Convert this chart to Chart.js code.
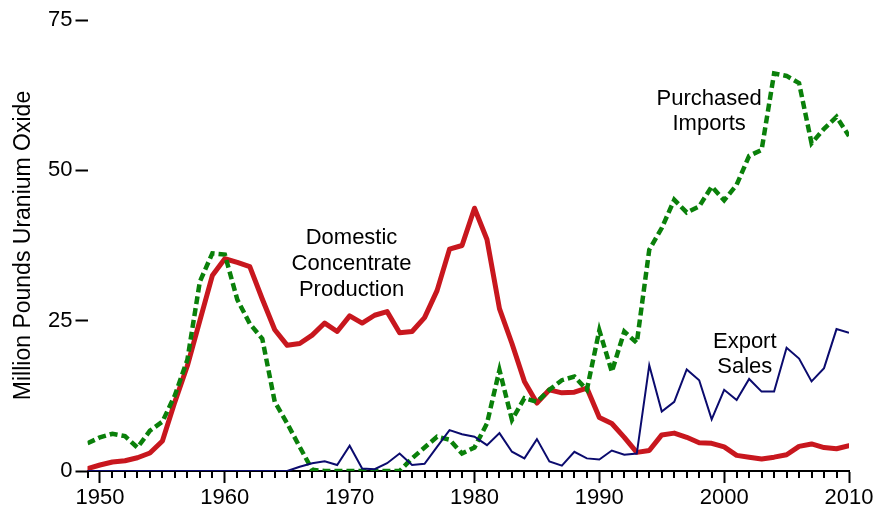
<!DOCTYPE html>
<html>
<head>
<meta charset="utf-8">
<script src="https://cdn.jsdelivr.net/npm/chart.js@4"></script>
<style>
  html, body { margin: 0; padding: 0; background: #fff; }
  #chart { display: block; }
</style>
</head>
<body>
<canvas id="chart" width="881" height="511"></canvas>
<script>
// Years on the x axis
const years = [
  1949, 1950, 1951, 1952, 1953, 1954, 1955, 1956, 1957, 1958,
  1959, 1960, 1961, 1962, 1963, 1964, 1965, 1966, 1967, 1968,
  1969, 1970, 1971, 1972, 1973, 1974, 1975, 1976, 1977, 1978,
  1979, 1980, 1981, 1982, 1983, 1984, 1985, 1986, 1987, 1988,
  1989, 1990, 1991, 1992, 1993, 1994, 1995, 1996, 1997, 1998,
  1999, 2000, 2001, 2002, 2003, 2004, 2005, 2006, 2007, 2008,
  2009, 2010
];

// Million pounds U3O8
const domesticProduction = [
  0.4, 1.0, 1.5, 1.7, 2.2, 3.0, 5.0, 11.5, 17.5, 25.0,
  32.5, 35.3, 34.7, 34.0, 28.6, 23.5, 20.9, 21.2, 22.6, 24.6,
  23.2, 25.8, 24.6, 25.9, 26.5, 23.0, 23.2, 25.5, 30.0, 36.9,
  37.5, 43.7, 38.5, 27.0, 21.2, 14.9, 11.3, 13.5, 13.0, 13.1,
  13.8, 8.9, 7.9, 5.6, 3.1, 3.4, 6.0, 6.3, 5.6, 4.7,
  4.6, 4.0, 2.6, 2.3, 2.0, 2.3, 2.7, 4.1, 4.5, 3.9,
  3.7, 4.2
];

const purchasedImports = [
  4.6, 5.6, 6.2, 5.8, 3.9, 6.7, 8.2, 12.6, 18.5, 31.5,
  36.2, 36.0, 28.5, 24.5, 22.0, 11.5, 7.9, 4.0, 0.2, 0,
  0, 0, 0, 0, 0, 0, 2.1, 3.9, 5.7, 5.2,
  2.9, 3.9, 7.9, 16.8, 8.5, 12.1, 11.5, 13.5, 15.1, 15.7,
  13.5, 23.4, 16.5, 23.2, 21.3, 36.8, 40.4, 45.1, 43.0, 44.0,
  47.3, 45.0, 47.6, 52.4, 53.4, 66.1, 65.7, 64.5, 54.5, 56.9,
  58.9, 55.7
];

const exportSales = [
  0, 0, 0, 0, 0, 0, 0, 0, 0, 0,
  0, 0, 0, 0, 0, 0, 0, 0.7, 1.3, 1.6,
  1.0, 4.2, 0.4, 0.3, 1.3, 2.9, 1.0, 1.2, 4.0, 6.8,
  6.1, 5.7, 4.3, 6.3, 3.2, 2.1, 5.3, 1.6, 0.9, 3.2,
  2.1, 1.9, 3.4, 2.7, 2.9, 17.6, 9.9, 11.5, 16.9, 15.1,
  8.6, 13.5, 11.8, 15.3, 13.2, 13.2, 20.5, 18.7, 14.9, 17.1,
  23.6, 23.0
];

const decadeTicks = [1950, 1960, 1970, 1980, 1990, 2000, 2010];
const yTicks = [0, 25, 50, 75];

const FONT = '"Liberation Sans", Arial, Helvetica, sans-serif';

function toPoints(values) {
  return years.map((yr, i) => ({ x: yr, y: values[i] }));
}

// Text labels placed next to each series (in data coordinates)
const seriesLabels = [
  { lines: ['Domestic', 'Concentrate', 'Production'], x: 1970.15, y: [37.75, 33.43, 29.1] },
  { lines: ['Purchased', 'Imports'], x: 1998.8, y: [60.85, 56.71] },
  { lines: ['Export', 'Sales'], x: 2001.65, y: [20.5, 16.35] }
];

// short tick marks for every year, long ones come from the axis itself
const minorTicks = {
  id: 'minorTicks',
  afterDraw(chart) {
    const xs = chart.scales.x;
    const ctx = chart.ctx;
    const y0 = chart.chartArea.bottom;
    ctx.save();
    ctx.strokeStyle = '#000';
    ctx.lineWidth = 2;
    years.forEach(yr => {
      if (yr % 10 === 0) return;
      const px = Math.round(xs.getPixelForValue(yr));
      ctx.beginPath();
      ctx.moveTo(px, y0);
      ctx.lineTo(px, y0 + 7);
      ctx.stroke();
    });
    ctx.restore();
  }
};

const textLabels = {
  id: 'textLabels',
  afterDatasetsDraw(chart) {
    const ctx = chart.ctx;
    const xs = chart.scales.x, ys = chart.scales.y;
    ctx.save();
    ctx.fillStyle = '#000';
    ctx.font = '22px ' + FONT;
    ctx.textAlign = 'center';
    ctx.textBaseline = 'alphabetic';
    seriesLabels.forEach(lbl => {
      lbl.lines.forEach((line, i) => {
        ctx.fillText(line, xs.getPixelForValue(lbl.x), ys.getPixelForValue(lbl.y[i]));
      });
    });
    ctx.restore();
  }
};

const ctx = document.getElementById('chart');

new Chart(ctx, {
  type: 'line',
  data: {
    datasets: [
      {
        label: 'Export Sales',
        data: toPoints(exportSales),
        borderColor: '#0b0b6e',
        borderWidth: 2,
        pointRadius: 0,
        tension: 0,
        borderJoinStyle: 'miter'
      },
      {
        label: 'Purchased Imports',
        data: toPoints(purchasedImports),
        borderColor: '#0a800a',
        borderWidth: 4.5,
        borderDash: [8, 4],
        pointRadius: 0,
        tension: 0
      },
      {
        label: 'Domestic Concentrate Production',
        data: toPoints(domesticProduction),
        borderColor: '#c8171e',
        borderWidth: 5,
        pointRadius: 0,
        tension: 0,
        borderJoinStyle: 'round',
        borderCapStyle: 'round'
      }
    ]
  },
  options: {
    responsive: false,
    animation: false,
    devicePixelRatio: 1,
    layout: { padding: { top: 20, right: 32, bottom: 0, left: 0 } },
    plugins: {
      legend: { display: false },
      tooltip: { enabled: false }
    },
    scales: {
      x: {
        type: 'linear',
        min: 1949,
        max: 2010,
        afterBuildTicks: scale => {
          scale.ticks = decadeTicks.map(v => ({ value: v }));
        },
        afterFit: scale => { scale.height = 40; },
        ticks: {
          callback: v => String(v),
          color: '#000',
          font: { family: FONT, size: 22 },
          padding: 2,
          maxRotation: 0,
          autoSkip: false
        },
        grid: {
          drawOnChartArea: false,
          drawTicks: true,
          tickLength: 12,
          tickWidth: 2,
          tickColor: '#000'
        },
        border: { display: true, color: '#000', width: 2 }
      },
      y: {
        min: 0,
        max: 75,
        afterBuildTicks: scale => {
          scale.ticks = yTicks.map(v => ({ value: v }));
        },
        afterFit: scale => { scale.width = 87.5; },
        ticks: {
          color: '#000',
          font: { family: FONT, size: 22 },
          padding: 3
        },
        grid: {
          drawOnChartArea: false,
          drawTicks: true,
          tickLength: 12,
          tickWidth: 2,
          tickColor: '#000'
        },
        border: { display: false },
        title: {
          display: true,
          text: 'Million Pounds Uranium Oxide',
          color: '#000',
          font: { family: FONT, size: 23 },
          padding: { top: 10, bottom: 0 }
        }
      }
    }
  },
  plugins: [minorTicks, textLabels]
});
</script>
</body>
</html>
